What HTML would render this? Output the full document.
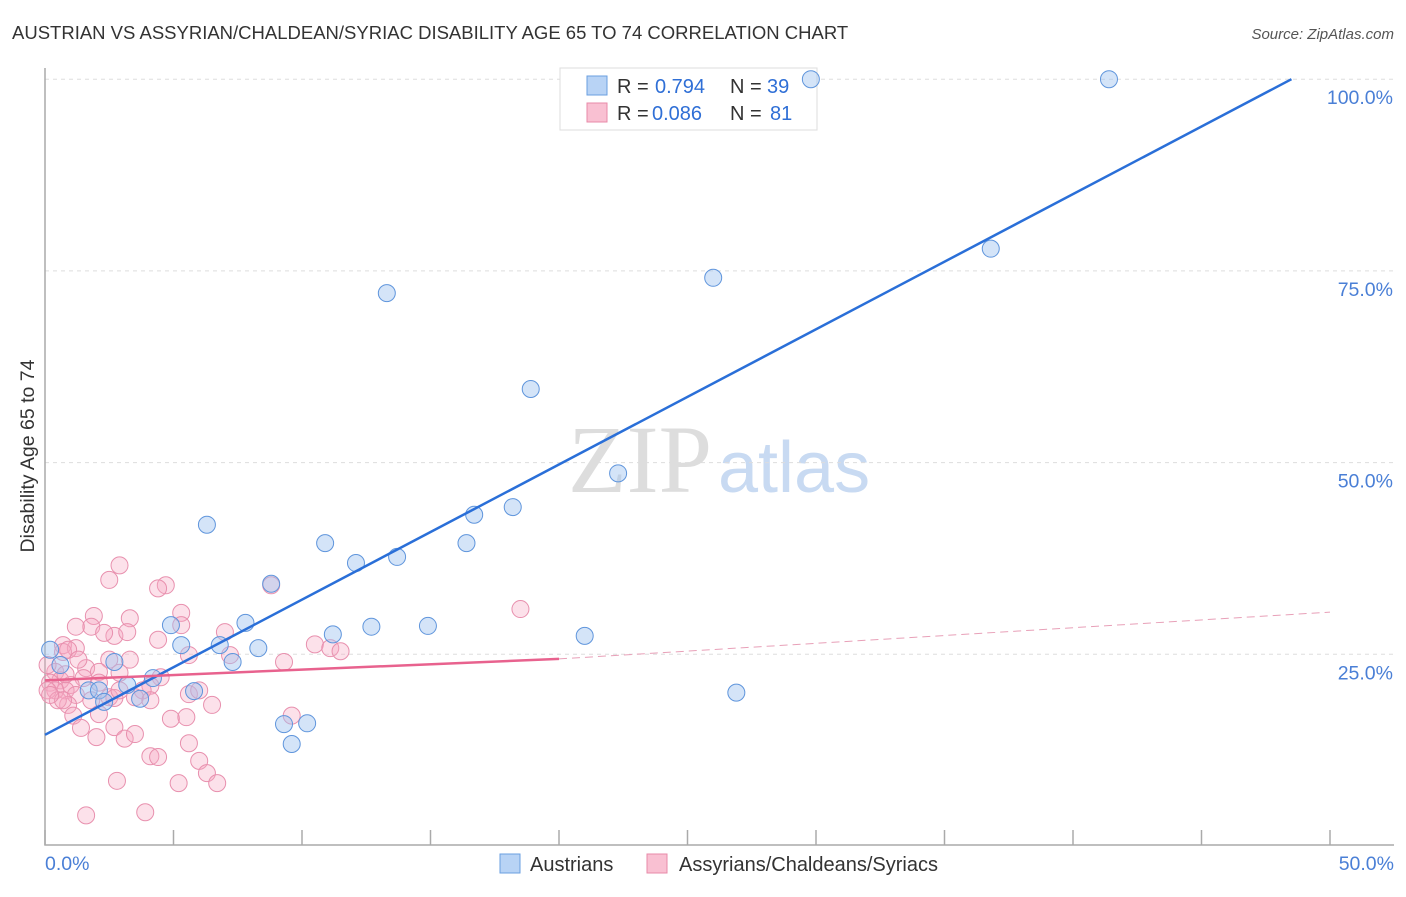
<!DOCTYPE html>
<html><head><meta charset="utf-8"><style>
body{margin:0;background:#fff;font-family:"Liberation Sans",sans-serif;}
svg text{font-family:"Liberation Sans",sans-serif;}
</style></head><body>
<svg id="c" width="1406" height="892" xmlns="http://www.w3.org/2000/svg">
<text x="12" y="39" font-size="18.5" fill="#333">AUSTRIAN VS ASSYRIAN/CHALDEAN/SYRIAC DISABILITY AGE 65 TO 74 CORRELATION CHART</text>
<text x="1394" y="39" font-size="15" fill="#555" font-style="italic" text-anchor="end">Source: ZipAtlas.com</text>
<text x="712" y="492" font-size="96" fill="#ddd" text-anchor="end" style="font-family:'Liberation Serif',serif">ZIP</text>
<text x="718" y="492" font-size="72" fill="#c8daf2">atlas</text>
<text x="34" y="456" font-size="19.5" fill="#333" text-anchor="middle" transform="rotate(-90 34 456)">Disability Age 65 to 74</text>
<g id="grid"></g>
<g>
<rect x="560" y="68" width="257" height="62" fill="#fff" stroke="#ddd"/>
<rect x="587" y="76" width="20" height="19" fill="#b8d3f5" stroke="#6a9fe0"/>
<rect x="587" y="103" width="20" height="19" fill="#f9c0d2" stroke="#e88aa8"/>
<text x="617" y="93" font-size="20" fill="#333">R =</text>
<text x="655" y="93" font-size="20" fill="#2f6fd6">0.794</text>
<text x="730" y="93" font-size="20" fill="#333">N =</text>
<text x="767" y="93" font-size="20" fill="#2f6fd6">39</text>
<text x="617" y="120" font-size="20" fill="#333">R =</text>
<text x="652" y="120" font-size="20" fill="#2f6fd6">0.086</text>
<text x="730" y="120" font-size="20" fill="#333">N =</text>
<text x="770" y="120" font-size="20" fill="#2f6fd6">81</text>
</g>
<g id="marks"></g>
<g>
<rect x="500" y="854" width="20" height="19" fill="#b8d3f5" stroke="#6a9fe0"/>
<text x="530" y="871" font-size="20" fill="#333">Austrians</text>
<rect x="647" y="854" width="20" height="19" fill="#f9c0d2" stroke="#e88aa8"/>
<text x="679" y="871" font-size="20" fill="#333">Assyrians/Chaldeans/Syriacs</text>
</g>
</svg>
<script>
const yTicks=[25,50,75,100];
const yTickLabels=["25.0%","50.0%","75.0%","100.0%"];
const xTickVals=[0,5,10,15,20,25,30,35,40,45,50];
const blueX=[29.8,41.4,36.8,26.0,13.3,18.9,22.3,18.2,16.7,6.3,16.4,10.9,13.7,12.1,8.8,7.8,4.9,11.2,12.7,14.9,21.0,5.3,6.8,8.3,7.3,2.7,4.2,3.2,1.7,2.1,3.7,5.8,2.3,26.9,9.3,10.2,9.6,0.2,0.6];
const blueY=[100,100,77.9,74.1,72.1,59.6,48.6,44.2,43.2,41.9,39.5,39.5,37.7,36.9,34.2,29.1,28.8,27.6,28.6,28.7,27.4,26.2,26.2,25.8,24.0,24.0,21.9,21.0,20.3,20.3,19.2,20.2,18.8,20.0,15.9,16.0,13.3,25.6,23.6];
const pinkX=[2.9,2.5,4.7,4.4,8.8,18.5,1.9,3.3,5.3,1.8,1.2,5.3,7.0,2.7,3.2,2.3,4.4,0.7,1.2,0.7,0.9,10.5,11.1,11.5,5.6,2.5,9.3,1.6,2.1,0.4,0.1,2.9,4.5,1.5,0.6,1.0,0.2,4.1,3.8,2.5,0.8,1.2,0.4,1.8,2.7,3.5,5.6,6.0,0.9,1.1,2.1,1.4,2.7,2.0,3.1,3.5,4.9,5.5,6.5,4.1,4.4,5.6,6.0,6.3,6.7,5.2,2.8,3.9,1.6,0.1,0.5,2.1,3.3,0.7,0.2,9.6,7.2,1.3,2.9,0.8,4.1];
const pinkY=[36.6,34.7,34.0,33.6,34.0,30.9,30.0,29.7,30.4,28.6,28.6,28.8,27.9,27.4,27.9,27.8,26.9,26.2,25.8,25.3,25.6,26.3,25.8,25.4,24.9,24.3,24.0,23.2,22.7,22.7,23.6,22.6,22.0,21.9,21.6,21.0,21.3,20.9,20.3,19.4,20.3,19.7,20.3,19.0,19.3,19.4,19.8,20.3,18.4,17.0,17.2,15.4,15.5,14.2,14.0,14.6,16.6,16.8,18.4,11.7,11.6,13.4,11.1,9.5,8.2,8.2,8.5,4.4,4.0,20.3,19.0,21.3,24.3,19.0,19.7,17.0,24.9,24.3,20.3,22.4,19.0];
const blueLine=[[0,14.5],[48.5,100]];
const pinkSolid=[[0,21.6],[20,24.4]];
const pinkDash=[[20,24.4],[50,30.5]];
const X=v=>45+v*25.7, Y=v=>846-v*7.668;
const NS="http://www.w3.org/2000/svg";
function mk(t,a,p){const e=document.createElementNS(NS,t);for(const k in a)e.setAttribute(k,a[k]);p.appendChild(e);return e;}
const g=document.getElementById('grid'), m=document.getElementById('marks');
yTicks.forEach((t,i)=>{
 const l=mk('line',{x1:45,x2:1394,y1:Y(t),y2:Y(t),stroke:'#ddd','stroke-dasharray':'4,4'},g);
 
 
 const tx=mk('text',{x:1393,y:Y(t)+25,'font-size':19.5,fill:'#4a7fd6','text-anchor':'end'},g);
 tx.textContent=yTickLabels[i];
 
 
});
const ax=mk('path',{d:'M45 68V845H1394',fill:'none',stroke:'#aaa','stroke-width':1.5},g);


xTickVals.forEach(v=>{
 const t=mk('line',{x1:X(v),x2:X(v),y1:830,y2:845,stroke:'#aaa','stroke-width':1.5},g);
 
 
});
[[0,'0.0%','start',45],[50,'50.0%','end',1394]].forEach(a=>{
 const t=mk('text',{x:a[3],y:870,'font-size':19.5,fill:'#4a7fd6','text-anchor':a[2]},g);
 t.textContent=a[1];
 
 
});
pinkX.forEach((x,i)=>{
 const c=mk('circle',{cx:X(x),cy:Y(pinkY[i]),r:8.5,fill:'rgba(245,170,195,0.35)',stroke:'#e890ae','stroke-width':1},m);
 
 
});
blueX.forEach((x,i)=>{
 const c=mk('circle',{cx:X(x),cy:Y(blueY[i]),r:8.5,fill:'rgba(160,195,240,0.45)',stroke:'#5f95dc','stroke-width':1},m);
 
 
});
function ln(p,st,dash,name){
 const l=mk('line',{x1:X(p[0][0]),y1:Y(p[0][1]),x2:X(p[1][0]),y2:Y(p[1][1]),stroke:st,'stroke-width':dash?1:2.5},m);
 if(dash)l.setAttribute('stroke-dasharray','8,5');
 
 
}
ln(blueLine,'#2a6fd8',false,'austrian-trend-line');
ln(pinkSolid,'#e8628e',false,'assyrian-trend-line');
ln(pinkDash,'#e8a0b8',true,'assyrian-trend-extension');
</script>
</body></html>
